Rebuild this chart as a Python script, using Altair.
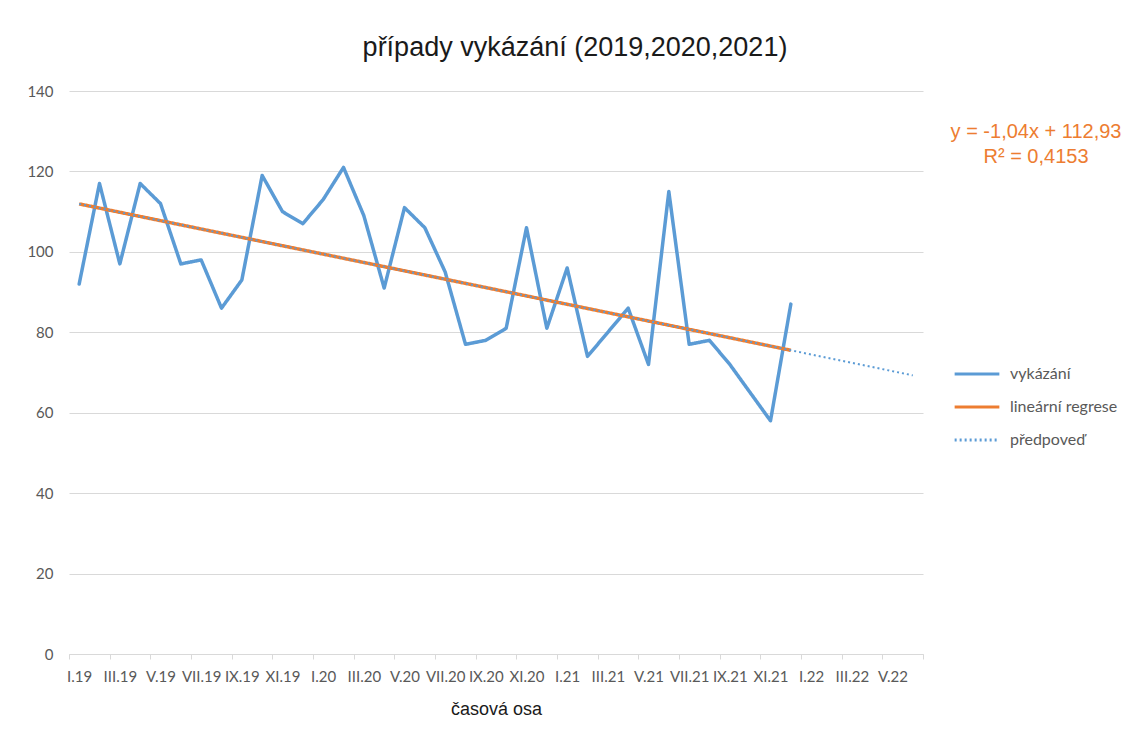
import json
import altair as alt
import pandas as pd

# ---- data -------------------------------------------------------------
values = [92, 117, 97, 117, 112, 97, 98, 86, 93, 119, 110, 107,
          113, 121, 109, 91, 111, 106, 95, 77, 78, 81, 106, 81,
          96, 74, 80, 86, 72, 115, 77, 78, 72, 65, 58, 87]
month_no = list(range(1, 37))
tick_labels = ["I.19", "III.19", "V.19", "VII.19", "IX.19", "XI.19",
               "I.20", "III.20", "V.20", "VII.20", "IX.20", "XI.20",
               "I.21", "III.21", "V.21", "VII.21", "IX.21", "XI.21",
               "I.22", "III.22", "V.22"]
n_categories = 42
series = ["vykázání", "lineární regrese", "předpoveď"]
colors = ["#5B9BD5", "#ED7D31", "#5B9BD5"]
dashes = [[1, 0], [1, 0], [2, 3]]
equation = ["y = -1,04x + 112,93", "R² = 0,4153"]
title_text = "případy vykázání (2019,2020,2021)"
x_title = "časová osa"

df = pd.DataFrame({"x": month_no, "y": values, "series": series[0]})

W, H = 854, 563
label_font = "Lato"
gray = "#595959"

x_scale = alt.Scale(domain=[0.5, n_categories + 0.5], nice=False, zero=False)
y_scale = alt.Scale(domain=[0, 140], nice=False)
tick_vals = [0.5 + 2 * i for i in range(n_categories // 2 + 1)]
label_expr = "datum.value < %d ? %s[floor(datum.value / 2)] : ''" % (
    n_categories, json.dumps(tick_labels, ensure_ascii=False))

x_axis = alt.Axis(values=tick_vals, labelExpr=label_expr, title=x_title,
                  grid=False, domainColor="#d9d9d9", tickColor="#d9d9d9",
                  tickSize=5, labelOffset=W / n_categories / 2,
                  labelOverlap=False, labelFlush=False, labelFont=label_font,
                  labelFontSize=15, labelColor=gray, labelPadding=10,
                  titleFont="Liberation Sans", titleFontSize=18,
                  titleFontWeight="normal", titleColor="#1a1a1a",
                  titlePadding=16)
y_axis = alt.Axis(values=list(range(0, 141, 20)), title=None, domain=False,
                  ticks=False, gridColor="#d9d9d9", labelFont=label_font,
                  labelFontSize=15, labelColor=gray, labelPadding=16)

color = alt.Color("series:N", scale=alt.Scale(domain=series, range=colors),
                  legend=alt.Legend(title=None, orient="none", legendX=884,
                                    legendY=259, symbolType="stroke",
                                    symbolSize=2000, symbolStrokeWidth=3,
                                    labelFont=label_font, labelFontSize=16,
                                    labelColor=gray, rowPadding=1,
                                    labelOffset=9))
dash = alt.StrokeDash("series:N", scale=alt.Scale(domain=series, range=dashes),
                      legend=None)

data_line = alt.Chart(df).mark_line(strokeWidth=3.5, strokeCap="round",
                                    strokeJoin="round").encode(
    x=alt.X("x:Q", scale=x_scale, axis=x_axis),
    y=alt.Y("y:Q", scale=y_scale, axis=y_axis),
    color=color, strokeDash=dash)

trend = alt.Chart(df).transform_regression(
    "x", "y", extent=[1, 36]
).transform_calculate(series="'%s'" % series[1]).mark_line(
    strokeWidth=3.5).encode(x=alt.X("x:Q", scale=x_scale),
                            y=alt.Y("y:Q", scale=y_scale),
                            color=color, strokeDash=dash)

forecast = alt.Chart(df).transform_regression(
    "x", "y", extent=[1, n_categories]
).transform_calculate(series="'%s'" % series[2]).mark_line(
    strokeWidth=2).encode(x=alt.X("x:Q", scale=x_scale),
                          y=alt.Y("y:Q", scale=y_scale),
                          color=color, strokeDash=dash)

eq = alt.Chart(pd.DataFrame({"a": [0]})).mark_text(
    text=equation, x=967, y=41, lineHeight=25, font="Liberation Sans",
    fontSize=20, color="#ED7D31", align="center", baseline="middle")

chart = alt.layer(data_line, trend, forecast, eq).properties(
    width=W, height=H,
    title=alt.TitleParams(title_text, font="Liberation Sans", fontSize=27,
                          fontWeight="normal", color="#1a1a1a",
                          anchor="middle", dx=79, offset=22),
    autosize=alt.AutoSizeParams(type="none"),
    padding={"left": 61, "top": 83, "right": 200, "bottom": 75},
).configure_view(stroke=None)

chart.save("out.html", embed_options={"renderer": "svg", "actions": False})
